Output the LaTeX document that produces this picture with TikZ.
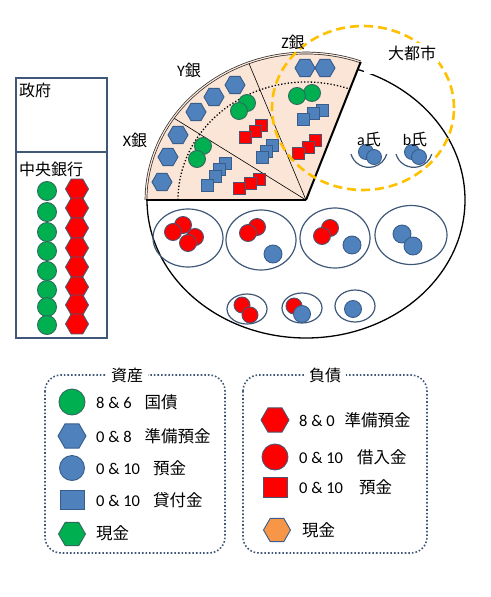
\documentclass[tikz,border=0pt]{standalone}
\usepackage{fontspec}
\setmainfont{Noto Sans CJK JP}
\newfontfamily\lat{Carlito}
\usetikzlibrary{shapes.geometric, positioning}

\definecolor{edgeblue}{HTML}{3F5878}
\definecolor{assetblue}{HTML}{4F81BD}
\definecolor{assetline}{HTML}{385D8A}
\definecolor{bondgreen}{HTML}{00B050}
\definecolor{bondline}{HTML}{2F6B5C}
\definecolor{debtred}{HTML}{FF0000}
\definecolor{debtline}{HTML}{4A5470}
\definecolor{cashorange}{HTML}{F79646}
\definecolor{bankfill}{HTML}{FBE5D6}
\definecolor{cityyellow}{HTML}{FFC000}

\begin{document}
\begin{tikzpicture}[
    x=1pt, y=-1pt,
    font=\fontsize{16}{18}\selectfont,
    bond/.style={circle, fill=bondgreen, draw=bondline, line width=0.9pt, minimum size=#1, inner sep=0pt},
    bond/.default=17pt,
    res/.style={regular polygon, regular polygon sides=6, fill=assetblue, draw=assetline, line width=0.9pt, minimum size=#1, inner sep=0pt},
    res/.default=20pt,
    dep/.style={circle, fill=assetblue, draw=assetline, line width=0.9pt, minimum size=#1, inner sep=0pt},
    dep/.default=17pt,
    loan/.style={rectangle, fill=assetblue, draw=assetline, line width=0.9pt, minimum size=#1, inner sep=0pt},
    loan/.default=12pt,
    cash/.style={regular polygon, regular polygon sides=6, fill=bondgreen, draw=bondline, line width=0.9pt, minimum size=#1, inner sep=0pt},
    cash/.default=27pt,
    resliab/.style={regular polygon, regular polygon sides=6, fill=debtred, draw=debtline, line width=0.9pt, minimum size=#1, inner sep=0pt},
    resliab/.default=23pt,
    borrow/.style={circle, fill=debtred, draw=debtline, line width=0.9pt, minimum size=#1, inner sep=0pt},
    borrow/.default=17pt,
    depliab/.style={rectangle, fill=debtred, draw=debtline, line width=0.9pt, minimum size=#1, inner sep=0pt},
    depliab/.default=12pt,
    cashliab/.style={regular polygon, regular polygon sides=6, fill=cashorange, draw=assetline, line width=0.9pt, minimum size=#1, inner sep=0pt},
    cashliab/.default=27pt,
    acct/.style={ellipse, draw=edgeblue, line width=1.2pt, inner sep=0pt},
    legbox/.style={draw=edgeblue, line width=1.6pt, dotted, rounded corners=16pt},
    legtitle/.style={fill=white, inner sep=5pt},
    legtext/.style={anchor=west, inner sep=1pt, font=\fontsize{16.5}{18}\selectfont}
]
\useasboundingbox (0,0) rectangle (490,597);

% Government and central bank
\draw[draw=edgeblue, line width=1.8pt] (16,78) rectangle (107,152);
\draw[draw=edgeblue, line width=1.8pt] (16,152) rectangle (107,338);
\node[anchor=west, inner sep=1pt] (gov) at (18,90) {政府};
\node[anchor=west, inner sep=1pt] (cb) at (18,169) {中央銀行};
\foreach \y [count=\i] in {191,212,232,251,271,290,307,325}
    \node[bond=19pt] (cbb\i) at (47,\y) {};
\foreach \y [count=\i] in {189,208,228,248,267,287,305,324}
    \node[resliab] (cbr\i) at (77,\y) {};

% Private sector
\node[draw, ellipse, line width=1.3pt, minimum width=318pt, minimum height=276pt, inner sep=0pt] (town) at (306,200) {};

% Banks
\coordinate (apex) at (306,200);
\fill[bankfill] (apex) -- (146,200) arc[start angle=-180, end angle=-70, x radius=160, y radius=147] -- cycle;
\draw[dotted, line width=1.3pt] (178,200) arc[start angle=-180, end angle=-70, x radius=128, y radius=118];
\draw[line width=0.6pt] (apex) -- +(-146:160 and 147);
\draw[line width=0.6pt] (apex) -- +(-111:160 and 147);
\draw[black!85, line width=0.7pt, double=bankfill, double distance=1.2pt] (146,200) arc[start angle=-180, end angle=-70, x radius=160, y radius=147];
\draw[line width=2pt] (apex) -- +(-70:160 and 147);
\draw[line width=2pt] (apex) -- (146,200);
\fill[white] (364,60) rectangle (382,74);

% X bank
\foreach \p [count=\i] in {{178,135},{168,157},{162,182}}
    \node[res] (xh\i) at (\p) {};
\node[bond] (xg1) at (203,146) {};
\node[bond] (xg2) at (197,159) {};
\foreach \p [count=\i] in {{225,163},{219,169},{215,176},{207,185}}
    \node[loan] (xl\i) at (\p) {};
\foreach \p [count=\i] in {{259,179},{250,183},{239,188}}
    \node[depliab] (xd\i) at (\p) {};

% Y bank
\foreach \p [count=\i] in {{196,112},{214,97},{235,85}}
    \node[res] (yh\i) at (\p) {};
\node[bond] (yg1) at (247,103) {};
\node[bond] (yg2) at (239,111) {};
\foreach \p [count=\i] in {{261,125},{255,131},{245,137}}
    \node[depliab] (yd\i) at (\p) {};
\foreach \p [count=\i] in {{272,145},{266,151},{262,157}}
    \node[loan] (yl\i) at (\p) {};

% Z bank
\node[res] (zh1) at (305,68) {};
\node[res] (zh2) at (325,68) {};
\node[bond] (zg1) at (312,93) {};
\node[bond] (zg2) at (297,96) {};
\foreach \p [count=\i] in {{322,110},{313,113},{303,119}}
    \node[loan] (zl\i) at (\p) {};
\foreach \p [count=\i] in {{315,140},{308,147},{298,153}}
    \node[depliab] (zd\i) at (\p) {};

% Firms and households
\node[acct, minimum width=70pt, minimum height=58pt] (f1) at (188,238) {};
\node[borrow] (f1a) at (183,225) {};
\node[borrow] (f1b) at (173,232) {};
\node[borrow] (f1c) at (195,237) {};
\node[borrow] (f1d) at (188,243) {};
\node[acct, minimum width=70pt, minimum height=60pt] (f2) at (261,240) {};
\node[borrow] (f2a) at (257,227) {};
\node[borrow] (f2b) at (248,233) {};
\node[dep=18pt] (f2c) at (273,254) {};
\node[acct, minimum width=70pt, minimum height=60pt] (f3) at (335,238) {};
\node[borrow] (f3a) at (330,228) {};
\node[borrow] (f3b) at (322,236) {};
\node[dep=18pt] (f3c) at (352,245) {};
\node[acct, minimum width=72pt, minimum height=59pt] (f4) at (411,235) {};
\node[dep=18pt] (f4a) at (402,234) {};
\node[dep=18pt] (f4b) at (413,246) {};

\node[acct, minimum width=40pt, minimum height=30pt] (h1) at (247,309) {};
\node[borrow=16pt] (h1a) at (242,305) {};
\node[borrow=16pt] (h1b) at (250,315) {};
\node[acct, minimum width=40pt, minimum height=30pt] (h2) at (302,308) {};
\node[borrow=16pt] (h2a) at (294,306) {};
\node[dep=17pt] (h2b) at (302,314) {};
\node[acct, minimum width=40pt, minimum height=32pt] (h3) at (355,306) {};
\node[dep=17pt] (h3a) at (353,309) {};

% a and b
\draw[draw=edgeblue, line width=1.2pt] (351,154) arc[start angle=165, end angle=15, x radius=18.5, y radius=18];
\draw[draw=edgeblue, line width=1.2pt] (396,154) arc[start angle=165, end angle=15, x radius=18.5, y radius=18];
\node[dep=15pt] (pa1) at (366,152) {};
\node[dep=15pt] (pa2) at (374,157) {};
\node[dep=15pt] (pb1) at (412,152) {};
\node[dep=15pt] (pb2) at (419,157) {};
\node (pa) at (369,139) {{\lat a}氏};
\node (pb) at (415,139) {{\lat b}氏};

% Metropolis
\node[ellipse, draw=cityyellow, line width=2.6pt, dash pattern=on 9pt off 5pt, minimum width=182pt, minimum height=164pt, inner sep=0pt] (metro) at (363,108) {};
\node[fill=white, inner sep=3pt] (metrolbl) at (412,53) {大都市};

% Bank labels
\node (xlbl) at (135,140) {{\lat X}銀};
\node (ylbl) at (189,70) {{\lat Y}銀};
\node (zlbl) at (293,42) {{\lat Z}銀};

% Legend: assets
\draw[legbox] (45,375) rectangle (225,553);
\node[legtitle] (asset) at (127,375) {資産};
\node[bond=26pt] (lbond) at (72,402) {};
\node[res=28pt] (lres) at (72,436) {};
\node[dep=25pt] (ldep) at (72,468) {};
\node[loan, minimum width=24pt, minimum height=19pt] (lloan) at (72,500) {};
\node[cash] (lcash) at (72,534) {};
\node[legtext] (tbond) at (95,402) {{\lat 8 \& 6}\hspace{13pt}国債};
\node[legtext] (tres) at (95,436) {{\lat 0 \& 8}\hspace{13pt}準備預金};
\node[legtext] (tdep) at (95,468) {{\lat 0 \& 10}\hspace{13pt}預金};
\node[legtext] (tloan) at (95,500) {{\lat 0 \& 10}\hspace{13pt}貸付金};
\node[legtext] (tcash) at (95,533) {現金};

% Legend: liabilities
\draw[legbox] (243,375) rectangle (427,553);
\node[legtitle] (liab) at (325,375) {負債};
\node[resliab=28pt] (lresl) at (275,420) {};
\node[borrow=26pt] (lborrow) at (275,457) {};
\node[depliab, minimum width=24pt, minimum height=20pt] (ldepl) at (275,487) {};
\node[cashliab] (lcashl) at (277,530) {};
\node[legtext] (tresl) at (298,420) {{\lat 8 \& 0}\hspace{10pt}準備預金};
\node[legtext] (tborrow) at (298,457) {{\lat 0 \& 10}\hspace{14pt}借入金};
\node[legtext] (tdepl) at (298,487) {{\lat 0 \& 10}\hspace{16pt}預金};
\node[legtext] (tcashl) at (301,530) {現金};

\end{tikzpicture}
\end{document}
